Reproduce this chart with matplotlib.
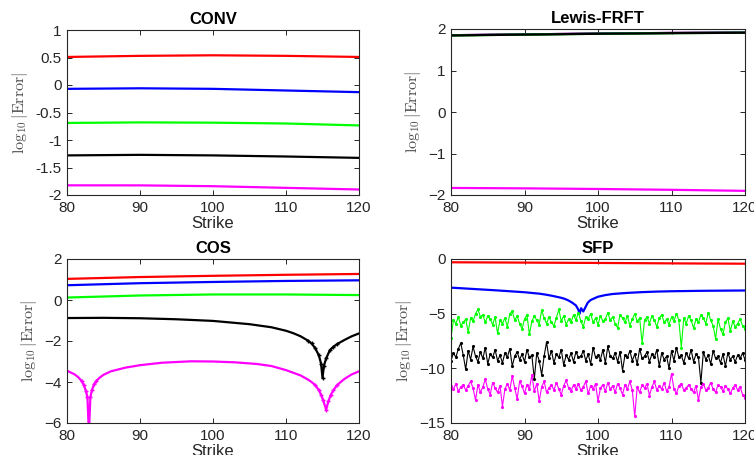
import numpy as np
import matplotlib
matplotlib.use("Agg")
import matplotlib.pyplot as plt

plt.rcParams['font.family'] = ['Liberation Sans', 'DejaVu Sans']
plt.rcParams['mathtext.fontset'] = 'cm'

AXC = '#262626'
LABC = '#4d4d4d'
RED, BLUE, GREEN, BLACK, MAGENTA = '#ff0000', '#0000ff', '#00ff00', '#000000', '#ff00ff'

# ---------------- CONV ----------------
conv_strike = [80, 90, 100, 110, 120]
conv_red = [0.51, 0.53, 0.54, 0.53, 0.51]
conv_blue = [-0.07, -0.06, -0.07, -0.10, -0.13]
conv_green = [-0.69, -0.68, -0.685, -0.70, -0.735]
conv_black = [-1.28, -1.27, -1.28, -1.30, -1.325]
conv_magenta = [-1.824, -1.825, -1.84, -1.87, -1.90]

# ---------------- Lewis-FRFT ----------------
lewis_strike = [80, 90, 100, 110, 120]
lewis_red = [1.85, 1.87, 1.89, 1.905, 1.915]
lewis_blue = [1.85, 1.87, 1.89, 1.905, 1.915]
lewis_green = [1.845, 1.865, 1.885, 1.90, 1.91]
lewis_black = [1.845, 1.865, 1.885, 1.90, 1.91]
lewis_magenta = [-1.83, -1.84, -1.855, -1.875, -1.90]

# ---------------- COS ----------------
cos_strike = [80, 90, 100, 110, 120]
cos_red = [1.03, 1.12, 1.18, 1.23, 1.27]
cos_blue = [0.72, 0.82, 0.88, 0.93, 0.96]
cos_green = [0.12, 0.22, 0.27, 0.27, 0.24]

cos_black_strike = [80, 85, 90, 95, 100, 105, 108, 110, 111, 112, 113, 113.5,
                    114, 114.5, 114.8, 115, 115.2, 115.5, 116, 116.5, 117,
                    118, 119, 120]
cos_black = [-0.88, -0.87, -0.89, -0.94, -1.02, -1.18, -1.33, -1.50, -1.62,
             -1.77, -1.98, -2.12, -2.35, -2.70, -3.10, -3.80, -3.20, -2.85,
             -2.45, -2.28, -2.15, -1.95, -1.77, -1.63]

cos_magenta_strike = [80, 81, 81.5, 82, 82.3, 82.6, 82.8, 83.0, 83.2, 83.4,
                      83.7, 84, 84.5, 85, 86, 88, 90, 93, 97, 100, 103, 106,
                      108, 110, 111, 112, 113, 113.5, 114, 114.5, 114.8, 115.1,
                      115.5, 115.8, 116.1, 116.5, 117, 118, 119, 120]
cos_magenta = [-3.45, -3.62, -3.75, -3.95, -4.15, -4.45, -4.75, -6.50, -4.75,
               -4.40, -4.12, -3.95, -3.78, -3.65, -3.48, -3.30, -3.18, -3.06,
               -2.99, -3.00, -3.04, -3.12, -3.22, -3.42, -3.55, -3.68, -3.88,
               -4.00, -4.15, -4.40, -4.62, -4.90, -5.35, -4.95, -4.65, -4.40,
               -4.15, -3.85, -3.63, -3.48]

# ---------------- SFP ----------------
sfp_red_strike = [80, 90, 100, 110, 120]
sfp_red = [-0.30, -0.33, -0.36, -0.40, -0.43]

sfp_blue_strike = [80, 82, 84, 86, 88, 90, 92, 93, 94, 95, 95.5, 96, 96.5, 97,
                   97.3, 97.5, 97.7, 98, 98.3, 98.6, 99, 99.5, 100, 101, 102,
                   104, 106, 108, 110, 112, 114, 116, 118, 120]
sfp_blue = [-2.62, -2.70, -2.78, -2.86, -2.95, -3.04, -3.17, -3.27, -3.40,
            -3.55, -3.65, -3.80, -4.00, -4.25, -4.60, -5.00, -4.50, -4.80,
            -4.40, -4.00, -3.75, -3.60, -3.45, -3.30, -3.20, -3.10, -3.03,
            -2.98, -2.95, -2.93, -2.91, -2.90, -2.89, -2.88]

# noisy series sampled on 121 strikes from 80 to 120
sfp_strike = np.linspace(80, 120, 121)
sfp_green = [
    -7.2, -5.6, -5.9, -5.3, -6.1, -5.8, -5.5, -6.7, -5.4, -5.7,
    -5.0, -4.6, -5.3, -5.1, -5.8, -5.2, -5.5, -6.0, -5.3, -6.8,
    -5.6, -5.9, -5.4, -6.2, -5.0, -4.8, -5.6, -5.2, -5.9, -6.4,
    -5.5, -5.1, -6.9, -5.7, -5.2, -5.6, -6.0, -4.7, -5.4, -5.9,
    -5.3, -5.8, -6.1, -5.4, -4.6, -5.7, -5.2, -6.0, -5.5, -5.8,
    -5.1, -5.6, -4.9, -5.7, -6.2, -5.3, -5.5, -5.0, -5.8, -5.4,
    -6.0, -5.2, -5.7, -5.5, -4.9, -5.6, -5.3, -5.9, -6.3, -5.1,
    -5.4, -5.8, -5.2, -6.1, -5.5, -5.0, -5.7, -5.4, -7.7, -5.6,
    -5.3, -5.9, -5.2, -5.6, -6.2, -5.4, -5.1, -5.8, -5.5, -6.0,
    -5.3, -5.7, -5.0, -5.6, -8.1, -5.4, -5.9, -5.2, -5.6, -6.3,
    -5.5, -5.8, -5.1, -5.4, -5.9, -4.9, -5.6, -6.1, -7.3, -5.5,
    -6.4, -6.9, -5.8, -5.4, -6.6, -5.7, -6.2, -5.9, -5.5, -6.1, -6.4]
sfp_black = [
    -9.3, -8.6, -9.0, -8.2, -7.7, -8.8, -10.1, -8.4, -9.2, -8.0,
    -8.9, -9.4, -8.5, -9.1, -8.1, -9.6, -8.7, -9.0, -8.3, -9.3,
    -8.8, -9.5, -8.6, -9.0, -8.2, -9.8, -8.9, -8.5, -9.2, -8.7,
    -9.4, -8.3, -9.0, -8.8, -11.0, -8.6, -9.3, -10.6, -8.9, -7.6,
    -9.1, -8.4, -9.5, -8.7, -9.0, -8.3, -9.7, -8.8, -9.2, -8.6,
    -9.4, -8.5, -9.0, -8.9, -8.4, -9.3, -8.7, -9.6, -8.1, -9.0,
    -8.8, -9.2, -8.3, -9.5, -8.0, -8.9, -9.1, -8.6, -9.4, -8.5,
    -10.2, -8.8, -9.0, -8.4, -9.3, -8.7, -9.6, -8.2, -9.1, -8.9,
    -8.5, -9.4, -8.7, -9.0, -8.3, -9.8, -8.6, -9.2, -8.9, -10.0,
    -8.4, -9.3, -8.1, -9.0, -8.8, -9.5, -8.6, -9.1, -8.3, -9.4,
    -8.7, -9.0, -11.3, -8.5, -9.2, -8.8, -9.6, -8.4, -9.1, -8.9,
    -9.5, -8.7, -9.8, -8.6, -9.2, -8.9, -9.4, -8.8, -9.1, -8.6, -9.2]
sfp_magenta = [
    -11.6, -11.9, -11.4, -12.1, -11.7, -11.5, -12.0, -11.6, -11.2, -11.8,
    -12.9, -11.5, -12.2, -11.7, -11.0, -11.9, -12.4, -11.3, -11.8, -12.2,
    -11.6, -13.5, -11.9, -11.4, -12.0, -10.7, -11.8, -12.8, -11.2, -11.6,
    -12.3, -11.5, -11.9, -10.6, -12.1, -11.4, -13.0, -11.7, -11.2, -12.2,
    -11.8, -11.5, -12.0, -11.3, -11.9, -12.4, -11.6, -11.1, -11.8, -12.1,
    -11.5, -11.9, -11.4, -12.0, -11.7, -11.2, -12.3, -11.6, -11.9, -11.4,
    -13.0, -11.8, -11.5, -12.1, -11.3, -11.9, -11.6, -12.2, -11.4, -11.8,
    -12.4, -11.5, -11.9, -11.2, -12.0, -14.4, -11.7, -12.2, -11.5, -11.8,
    -11.4, -12.5, -11.7, -11.2, -12.0, -11.6, -11.9, -11.3, -12.1, -11.7,
    -10.5, -11.9, -12.3, -11.6, -11.4, -12.0, -11.8, -11.5, -11.9, -12.2,
    -11.6, -12.9, -11.7, -11.4, -12.0, -11.8, -11.3, -11.9, -12.2, -11.5,
    -11.7, -12.1, -11.6, -11.9, -12.3, -11.8, -11.5, -12.0, -11.7, -12.4, -12.7]

xticks = [80, 90, 100, 110, 120]

W, H = 754, 455
fig = plt.figure(figsize=(W / 100, H / 100), dpi=100)


def make_axes(l, t, r, b):
    return fig.add_axes([l / W, 1 - b / H, (r - l) / W, (b - t) / H])


def style(ax, title, ylim, yticks, yticklabels=None):
    ax.set_xlim(80, 120)
    ax.set_ylim(*ylim)
    ax.set_xticks(xticks)
    ax.set_yticks(yticks)
    if yticklabels is not None:
        ax.set_yticklabels(yticklabels)
    ax.tick_params(direction='in', length=3.5, width=0.7, colors=AXC,
                   labelsize=11, top=True, right=True, pad=4)
    for s in ax.spines.values():
        s.set_color(AXC)
        s.set_linewidth(0.8)
    ax.set_title(title, fontsize=12, fontweight='bold', color='black', pad=4)
    ax.set_xlabel('Strike', fontsize=12, color=AXC, labelpad=1)
    ax.set_ylabel(r'$\log_{10}|\mathrm{Error}|$', fontsize=11.5, color=LABC,
                  labelpad=4)


def dense_idx(x, lo, hi):
    # indices of samples inside the finely resolved dip windows
    return [i for i, v in enumerate(x) if any(a <= v <= b for a, b in zip(lo, hi))]


LW = 1.6

ax1 = make_axes(67, 30, 359, 195)
ax1.plot(conv_strike, conv_red, color=RED, lw=LW)
ax1.plot(conv_strike, conv_blue, color=BLUE, lw=LW)
ax1.plot(conv_strike, conv_green, color=GREEN, lw=LW)
ax1.plot(conv_strike, conv_black, color=BLACK, lw=LW)
ax1.plot(conv_strike, conv_magenta, color=MAGENTA, lw=LW)
style(ax1, 'CONV', (-2, 1), [-2, -1.5, -1, -0.5, 0, 0.5, 1],
      ['-2', '-1.5', '-1', '-0.5', '0', '0.5', '1'])

ax2 = make_axes(451, 29, 745, 195)
ax2.plot(lewis_strike, lewis_red, color=RED, lw=LW)
ax2.plot(lewis_strike, lewis_blue, color=BLUE, lw=LW)
ax2.plot(lewis_strike, lewis_green, color=GREEN, lw=LW)
ax2.plot(lewis_strike, lewis_black, color=BLACK, lw=LW)
ax2.plot(lewis_strike, lewis_magenta, color=MAGENTA, lw=LW)
style(ax2, 'Lewis-FRFT', (-2, 2), [-2, -1, 0, 1, 2])

ax3 = make_axes(67, 259, 359, 423)
ax3.plot(cos_strike, cos_red, color=RED, lw=LW)
ax3.plot(cos_strike, cos_blue, color=BLUE, lw=LW)
ax3.plot(cos_strike, cos_green, color=GREEN, lw=LW)
ax3.plot(cos_black_strike, cos_black, color=BLACK, lw=LW, marker='+', ms=3,
         markevery=dense_idx(cos_black_strike, [113], [117]))
ax3.plot(cos_magenta_strike, cos_magenta, color=MAGENTA, lw=LW, marker='+', ms=3,
         markevery=dense_idx(cos_magenta_strike, [82, 114], [84, 117]))
style(ax3, 'COS', (-6, 2), [-6, -4, -2, 0, 2])

ax4 = make_axes(451, 259, 745, 423)
ax4.plot(sfp_red_strike, sfp_red, color=RED, lw=LW)
ax4.plot(sfp_blue_strike, sfp_blue, color=BLUE, lw=LW)
ax4.plot(sfp_strike, sfp_green, color=GREEN, lw=0.8, marker='.', ms=2.5)
ax4.plot(sfp_strike, sfp_black, color=BLACK, lw=0.8, marker='.', ms=2.5)
ax4.plot(sfp_strike, sfp_magenta, color=MAGENTA, lw=0.8, marker='.', ms=2.5)
style(ax4, 'SFP', (-15, 0), [-15, -10, -5, 0])

fig.savefig('out.png', dpi=100)
